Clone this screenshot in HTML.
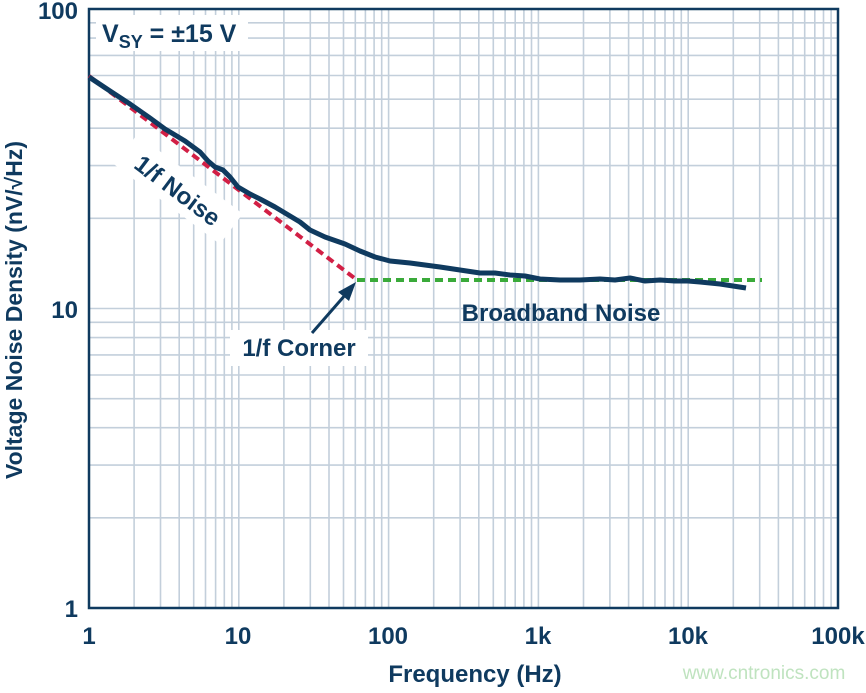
<!DOCTYPE html>
<html><head><meta charset="utf-8"><style>
body{margin:0;background:#fff;width:866px;height:688px;overflow:hidden}
text{font-family:"Liberation Sans",Arial,sans-serif;font-weight:bold;fill:#0f3a5f}
</style></head><body>
<svg width="866" height="688" viewBox="0 0 866 688">
<defs>
<g id="vd" stroke="#c3cfdb" stroke-width="1.6">
<line x1="45.1" y1="9" x2="45.1" y2="608"/><line x1="71.5" y1="9" x2="71.5" y2="608"/>
<line x1="90.2" y1="9" x2="90.2" y2="608"/><line x1="104.7" y1="9" x2="104.7" y2="608"/>
<line x1="116.5" y1="9" x2="116.5" y2="608"/><line x1="126.6" y1="9" x2="126.6" y2="608"/>
<line x1="135.3" y1="9" x2="135.3" y2="608"/><line x1="142.9" y1="9" x2="142.9" y2="608"/>
<line x1="149.8" y1="9" x2="149.8" y2="608"/>
</g>
<g id="hd" stroke="#c3cfdb" stroke-width="1.6">
<line x1="89" y1="-90.2" x2="838" y2="-90.2"/><line x1="89" y1="-142.9" x2="838" y2="-142.9"/>
<line x1="89" y1="-180.3" x2="838" y2="-180.3"/><line x1="89" y1="-209.3" x2="838" y2="-209.3"/>
<line x1="89" y1="-233" x2="838" y2="-233"/><line x1="89" y1="-253.1" x2="838" y2="-253.1"/>
<line x1="89" y1="-270.4" x2="838" y2="-270.4"/><line x1="89" y1="-285.7" x2="838" y2="-285.7"/>
<line x1="89" y1="-299.5" x2="838" y2="-299.5"/>
</g>
</defs>
<use href="#vd" transform="translate(89,0)"/>
<use href="#vd" transform="translate(238.8,0)"/>
<use href="#vd" transform="translate(388.6,0)"/>
<use href="#vd" transform="translate(538.4,0)"/>
<use href="#vd" transform="translate(688.2,0)"/>
<use href="#hd" transform="translate(0,608)"/>
<use href="#hd" transform="translate(0,308.5)"/>
<rect x="89" y="9" width="749" height="599" fill="none" stroke="#0f3a5f" stroke-width="2.5"/>
<rect x="96" y="15" width="152" height="36" fill="#fff"/>
<text x="102" y="42" font-size="25">V<tspan font-size="18" dy="6">SY</tspan><tspan dy="-6"> = ±15 V</tspan></text>
<line x1="89" y1="76" x2="357" y2="280" stroke="#d21f45" stroke-width="4" stroke-dasharray="8,5"/>
<line x1="357" y1="280" x2="762" y2="280" stroke="#3aaa3a" stroke-width="4" stroke-dasharray="8,5"/>
<polyline fill="none" stroke="#0f3a5f" stroke-width="5" stroke-linejoin="round" points="89,77 110,91 130,104 150,118 165,129 185,141 200,152 208,161 215,167 223,170 230,177 238,187 250,194 260,199 275,207 285,213 300,222 310,230 325,237 345,244 360,251 375,257 390,261 410,263 440,267 460,270 480,273 495,273 510,275 525,276 540,279 560,280 580,280 600,279 615,280 630,278 645,281 660,280 675,281 688,281 700,282 720,284 746,288"/>
<g transform="translate(178,190) rotate(37)">
<rect x="-66" y="-20" width="132" height="38" fill="#fff"/>
<text x="0" y="9" font-size="24" text-anchor="middle">1/f Noise</text>
</g>
<rect x="230" y="330" width="138" height="36" fill="#fff"/>
<text x="299" y="356" font-size="24" text-anchor="middle">1/f Corner</text>
<text x="561" y="321" font-size="24" text-anchor="middle">Broadband Noise</text>
<line x1="312" y1="333" x2="346" y2="294" stroke="#0f3a5f" stroke-width="3"/>
<polygon points="356,282 338,292 349,301" fill="#0f3a5f"/>
<g font-size="24" text-anchor="middle">
<text x="89" y="644">1</text><text x="238" y="644">10</text><text x="388" y="644">100</text>
<text x="538" y="644">1k</text><text x="688" y="644">10k</text><text x="838" y="644">100k</text>
</g>
<g font-size="24" text-anchor="end">
<text x="78" y="19">100</text><text x="78" y="318">10</text><text x="78" y="617">1</text>
</g>
<text x="475" y="682" font-size="24" text-anchor="middle">Frequency (Hz)</text>
<text transform="translate(22,310) rotate(-90)" font-size="23" text-anchor="middle">Voltage Noise Density (nV/√Hz)</text>
<rect x="666" y="656" width="200" height="32" fill="#fff"/>
<text x="764" y="679" font-size="19" text-anchor="middle" style="fill:#bfe3bf;font-weight:normal">www.cntronics.com</text>
</svg>
</body></html>
